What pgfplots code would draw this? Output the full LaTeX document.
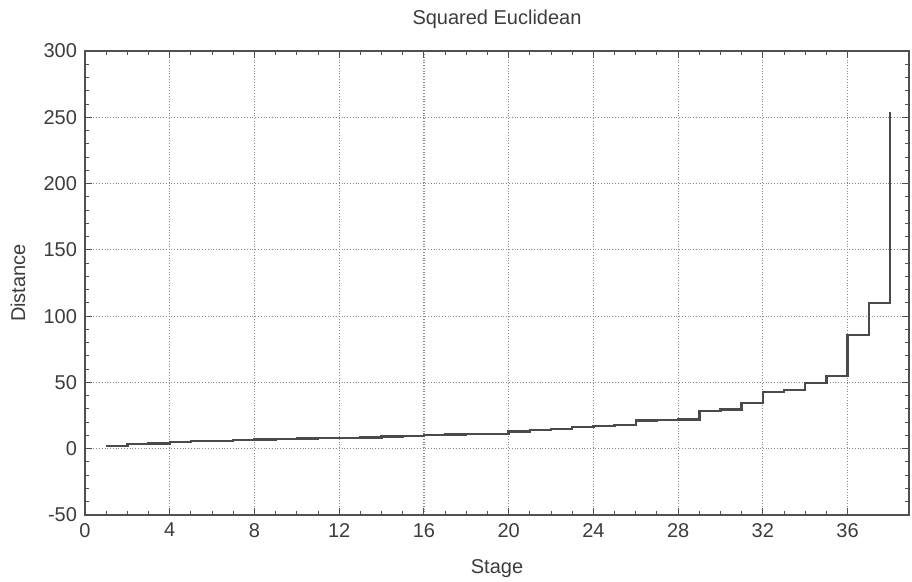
\documentclass[border=0pt]{standalone}
\usepackage{fontspec}
\setmainfont{Liberation Sans}
\usepackage{pgfplots}
\pgfplotsset{compat=1.18}
\definecolor{txt}{HTML}{3C3C3C}
\definecolor{ln}{HTML}{4A4A4A}
\definecolor{ax}{HTML}{505050}
\definecolor{grd}{HTML}{8A8A8A}
\begin{document}
\begin{tikzpicture}
\begin{axis}[
  at={(0,0)}, anchor=south west,
  scale only axis, width=412bp, height=232bp,
  xmin=0, xmax=38.9, ymin=-50, ymax=300,
  xtick={0,4,...,36}, ytick={-50,0,...,300},
  minor x tick num=3, minor y tick num=4,
  tick align=inside, major tick length=3.5bp, minor tick length=2bp,
  grid=major, major grid style={densely dotted, grd, line width=0.6bp},
  axis line style={ax, line width=0.7bp},
  every tick/.style={ax, line width=0.5bp},
  /pgf/number format/assume math mode=true,
  tick label style={font=\fontsize{10bp}{12bp}\selectfont, text=txt},
  xticklabel style={yshift=-0.5bp},
  yticklabel style={xshift=-0.5bp},
  title={Squared Euclidean},
  every axis title/.style={font=\fontsize{10bp}{12bp}\selectfont, text=txt, at={(0.5,1)}, anchor=center, yshift=16bp},
  xlabel={Stage},
  every axis x label/.style={font=\fontsize{10bp}{12bp}\selectfont, text=txt, at={(0.5,0)}, anchor=center, yshift=-27bp},
  ylabel={Distance},
  every axis y label/.style={font=\fontsize{10bp}{12bp}\selectfont, text=txt, at={(0,0.5)}, anchor=center, rotate=90, yshift=33.5bp},
  clip=false,
]
\addplot[const plot, ln, line width=1.2bp] coordinates {
(1,2.0) (2,3.7) (3,3.9) (4,5.0) (5,5.7) (6,6.0) (7,6.5) (8,6.9) (9,7.2) (10,7.6)
(11,8.0) (12,8.3) (13,8.6) (14,9.2) (15,9.6) (16,10.3) (17,10.7) (18,11.0) (19,11.3) (20,13.0)
(21,14.0) (22,14.8) (23,16.5) (24,17.0) (25,18.0) (26,21.2) (27,21.5) (28,22.0) (29,28.5) (30,29.5)
(31,34.5) (32,43.0) (33,44.5) (34,49.5) (35,55.0) (36,86.0) (37,110.0) (38,254.0)
};
\end{axis}
\pgfresetboundingbox
\path[use as bounding box] (-42.5bp,-33.5bp) rectangle (413.5bp,257.5bp);
\end{tikzpicture}
\end{document}
